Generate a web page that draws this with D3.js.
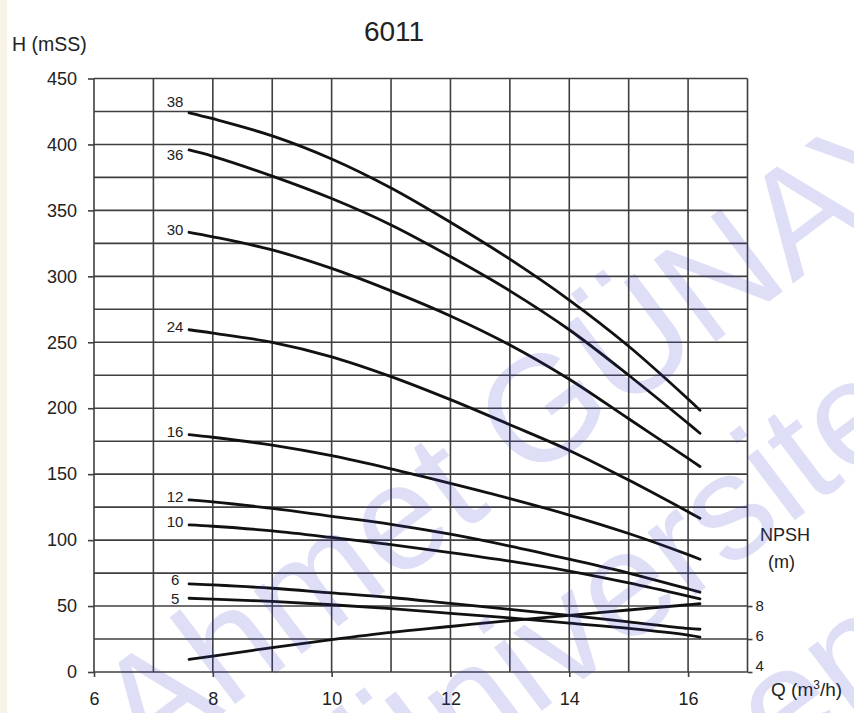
<!DOCTYPE html>
<html>
<head>
<meta charset="utf-8">
<script src="https://cdn.jsdelivr.net/npm/d3@7"></script>
<style>
  html, body { margin: 0; padding: 0; background: #ffffff; }
  svg { display: block; }
  text { font-family: "Liberation Sans", Arial, sans-serif; fill: #222; }
</style>
</head>
<body>
<svg id="chart" width="854" height="713"></svg>
<script>
// ---------------- data ----------------
const flowQ = [7.6, 8, 9, 10, 11, 12, 13, 14, 15, 16, 16.2];
const stageLabels = ["38", "36", "30", "24", "16", "12", "10", "6", "5"];
const head38 = [424, 419.5, 406.5, 389, 367, 341, 313, 282, 247, 207, 198.5];
const head36 = [395.8, 391, 376, 359, 339, 315, 289, 259.5, 225, 188.5, 181];
const head30 = [333.4, 330, 320, 306, 289, 270, 248, 222, 192, 162, 155.8];
const head24 = [259.5, 257, 250, 239, 224, 206.5, 187.5, 168, 145.5, 121.5, 116.6];
const head16 = [180, 178, 172, 164, 154, 143, 131.5, 119, 105, 89, 85.5];
const head12 = [130.5, 129, 124, 118, 112, 104.5, 95.5, 85.5, 75, 63, 60.5];
const head10 = [111.5, 110.5, 107, 102, 96.5, 90.5, 84, 76.5, 67.5, 57.5, 55.4];
const head6  = [66.8, 66, 63.5, 60, 56.5, 52, 47.5, 43, 38, 33, 32.4];
const head5  = [55.9, 55.3, 53.5, 51, 48, 44.5, 41, 37, 33, 28, 26.5];
const npshValues = [4.77, 4.96, 5.48, 5.96, 6.4, 6.76, 7.12, 7.44, 7.76, 8.08, 8.14];
const xTickLabels = [6, 8, 10, 12, 14, 16];
const yTickLabels = [0, 50, 100, 150, 200, 250, 300, 350, 400, 450];
const npshTickLabels = [4, 6, 8];
const headSeries = [head38, head36, head30, head24, head16, head12, head10, head6, head5];

// ---------------- layout ----------------
const svg = d3.select("#chart");
const mLeft = 94, mRight = 747.5, mTop = 78.5, mBottom = 672;

const x = d3.scaleLinear().domain([6, 17]).range([mLeft, mRight]);
const y = d3.scaleLinear().domain([0, 450]).range([mBottom, mTop]);
const yN = d3.scaleLinear().domain([4, 8]).range([y(0), y(50)]);

// left beige strip of the scan
svg.append("rect").attr("x", 0).attr("y", 0).attr("width", 7).attr("height", 713)
  .attr("fill", "#f7f3e7");

// grid
const grid = svg.append("g").attr("stroke", "#3f3f3f").attr("stroke-width", 1.6);
grid.selectAll("line.v").data(d3.range(6, 17.01, 1)).join("line").attr("class", "v")
  .attr("x1", d => x(d)).attr("x2", d => x(d))
  .attr("y1", y(450)).attr("y2", y(0));
grid.selectAll("line.h").data(d3.range(0, 450.01, 25)).join("line").attr("class", "h")
  .attr("x1", x(6)).attr("x2", x(17))
  .attr("y1", d => y(d)).attr("y2", d => y(d));

// axes
function styleAxis(g, size) {
  g.select(".domain").remove();
  g.selectAll(".tick line").attr("stroke", "#3f3f3f").attr("stroke-width", 1.6);
  g.selectAll(".tick text").style("font-size", size + "px").attr("fill", "#222")
    .style("font-family", "'Liberation Sans', Arial, sans-serif");
}
svg.append("g").attr("transform", `translate(0,${mBottom})`)
  .call(d3.axisBottom(x).tickValues(xTickLabels).tickSize(5).tickPadding(15).tickFormat(d3.format("d")))
  .call(g => styleAxis(g, 18));
svg.append("g").attr("transform", `translate(${mLeft},0)`)
  .call(d3.axisLeft(y).tickValues(yTickLabels).tickSize(6).tickPadding(11).tickFormat(d3.format("d")))
  .call(g => styleAxis(g, 18));
const rAxis = svg.append("g").attr("transform", `translate(${mRight},0)`)
  .call(d3.axisRight(yN).tickValues(npshTickLabels).tickSize(5).tickPadding(3).tickFormat(d3.format("d")))
  .call(g => styleAxis(g, 15));
rAxis.selectAll(".tick text").attr("y", d => -(8 - d) * 1.5);

// curves
const line = d3.line().x(d => x(d[0])).y(d => y(d[1])).curve(d3.curveCatmullRom.alpha(0.5));
const lineN = d3.line().x(d => x(d[0])).y(d => yN(d[1])).curve(d3.curveCatmullRom.alpha(0.5));

const curves = svg.append("g").attr("fill", "none").attr("stroke", "#111")
  .attr("stroke-width", 2.8).attr("stroke-linecap", "round");
headSeries.forEach(s => {
  curves.append("path").attr("d", line(flowQ.map((q, i) => [q, s[i]])));
});
curves.append("path").attr("d", lineN(flowQ.map((q, i) => [q, npshValues[i]])));

// curve labels
const labelDy = { "38": -11, "36": 5, "6": -4, "5": 0 };
svg.append("g").selectAll("text").data(stageLabels).join("text")
  .attr("x", x(flowQ[0]) - 14)
  .attr("y", (d, i) => y(headSeries[i][0]) + (labelDy[d] !== undefined ? labelDy[d] : -3))
  .attr("dy", "0.35em")
  .attr("text-anchor", "middle")
  .style("font-size", "15px")
  .text(d => d);

// titles
svg.append("text").attr("x", 394).attr("y", 41).attr("text-anchor", "middle")
  .style("font-size", "28px").text("6011");
svg.append("text").attr("x", 12).attr("y", 51).style("font-size", "19.5px").text("H (mSS)");
svg.append("text").attr("x", 760).attr("y", 541).style("font-size", "18px").text("NPSH");
svg.append("text").attr("x", 768).attr("y", 568).style("font-size", "18px").text("(m)");
const qt = svg.append("text").attr("x", 771).attr("y", 696).style("font-size", "19px");
qt.append("tspan").text("Q (m");
qt.append("tspan").attr("dy", -7).style("font-size", "12px").text("3");
qt.append("tspan").attr("dy", 7).text("/h)");

// watermark of the scan
const wm = svg.append("g").style("pointer-events", "none");
const wmLines = ["Dr. Ahmet GÜNAY", "Ordu Üniversitesi", "Çevre Mühendisliği"];
wmLines.forEach((t, i) => {
  wm.append("text")
    .attr("transform", `translate(${-33 + i * 114},${906 + i * 152}) rotate(-37)`)
    .style("font-size", "150px").style("fill", "#3c3cd2").style("fill-opacity", 0.17)
    .text(t);
});
</script>
</body>
</html>
